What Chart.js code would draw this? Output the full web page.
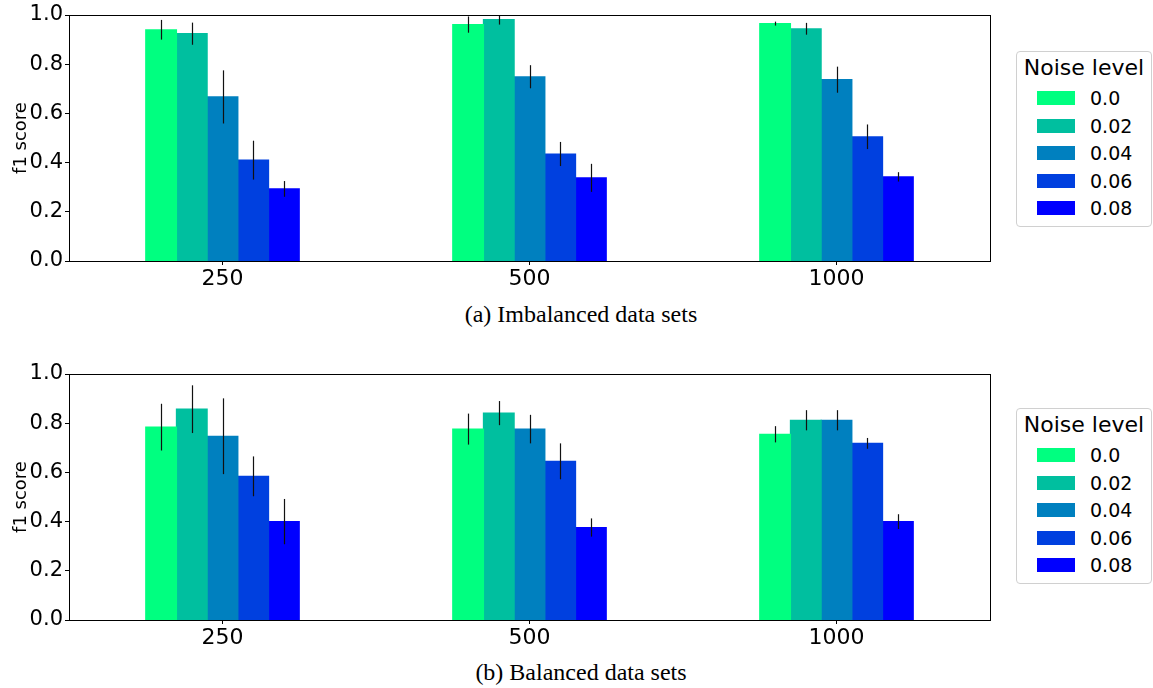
<!DOCTYPE html>
<html>
<head>
<meta charset="utf-8">
<script src="https://cdn.jsdelivr.net/npm/chart.js@4"></script>
<style>
  body { margin: 0; background: #fff; width: 1153px; height: 688px; position: relative; overflow: hidden; }
  .plot { position: absolute; left: 0; width: 1000px; height: 300px; }
  .caption { position: absolute; left: 331px; width: 500px; text-align: center; font-family: "Liberation Serif", serif; font-size: 24px; color: #000; }
  .legend { position: absolute; left: 1016px; width: 134px; height: 174px; border: 1px solid #d0d0d0; border-radius: 4px; font-family: "DejaVu Sans", sans-serif; }
  .legend .title { position: absolute; left: 0; width: 100%; top: 3px; text-align: center; font-size: 22px; line-height: 26px; }
  .legend .row { position: absolute; left: 0; width: 100%; height: 20px; }
  .legend .sw { position: absolute; left: 20px; top: 3px; width: 38px; height: 14px; }
  .legend .lb { position: absolute; left: 73px; top: 0; font-size: 19px; line-height: 20px; }
</style>
</head>
<body>
<div class="plot" style="top:0"><canvas id="imbChart"></canvas></div>
<div class="caption" style="top:301px">(a) Imbalanced data sets</div>
<div class="legend" id="imbLegend" style="top:51px"></div>

<div class="plot" style="top:359px"><canvas id="balChart"></canvas></div>
<div class="caption" style="top:659px">(b) Balanced data sets</div>
<div class="legend" id="balLegend" style="top:408px"></div>

<script>
const categories = ['250', '500', '1000'];
const noiseLevels = ['0.0', '0.02', '0.04', '0.06', '0.08'];
const barColors = ['#00ff80', '#00bf9f', '#0080bf', '#0040df', '#0000ff'];
const yTicks = [0, 0.2, 0.4, 0.6, 0.8, 1.0];

// one row per noise level, one value per data set size
const imbMeans = [
    [0.940, 0.961, 0.965],
    [0.924, 0.981, 0.944],
    [0.667, 0.749, 0.737],
    [0.410, 0.435, 0.505],
    [0.293, 0.338, 0.342]
];
const imbErrors = [
    [0.040, 0.033, 0.008],
    [0.045, 0.020, 0.024],
    [0.108, 0.047, 0.053],
    [0.079, 0.049, 0.050],
    [0.032, 0.057, 0.019]
];
const balMeans = [
    [0.784, 0.776, 0.755],
    [0.857, 0.841, 0.812],
    [0.747, 0.776, 0.812],
    [0.584, 0.645, 0.718],
    [0.400, 0.376, 0.400]
];
const balErrors = [
    [0.095, 0.063, 0.033],
    [0.097, 0.049, 0.041],
    [0.154, 0.058, 0.041],
    [0.081, 0.073, 0.022],
    [0.092, 0.037, 0.030]
];

const errorBars = {
    id: 'errorBars',
    afterDatasetsDraw(chart, args, opts) {
        const c = chart.ctx, y = chart.scales.y, a = chart.chartArea;
        c.save();
        c.beginPath();
        c.rect(a.left, a.top, a.right - a.left, a.bottom - a.top);
        c.clip();
        c.strokeStyle = '#111';
        c.lineWidth = 1.2;
        chart.data.datasets.forEach((ds, i) => {
            const meta = chart.getDatasetMeta(i);
            meta.data.forEach((bar, j) => {
                const v = ds.data[j], e = ds.errors[j];
                c.beginPath();
                c.moveTo(Math.round(bar.x) + 0.5, y.getPixelForValue(v + e));
                c.lineTo(Math.round(bar.x) + 0.5, y.getPixelForValue(v - e));
                c.stroke();
            });
        });
        c.restore();
    }
};

const frame = {
    id: 'frame',
    afterDraw(chart) {
        const c = chart.ctx, a = chart.chartArea;
        c.save();
        c.strokeStyle = '#000';
        c.lineWidth = 1;
        c.strokeRect(Math.round(a.left) + 0.5, Math.round(a.top) + 0.5,
            Math.round(a.right - a.left), Math.round(a.bottom - a.top));
        c.restore();
    }
};

function makeChart(id, means, errors) {
    new Chart(document.getElementById(id), {
        type: 'bar',
        data: {
            labels: categories,
            datasets: noiseLevels.map((lvl, i) => ({
                label: lvl,
                data: means[i],
                errors: errors[i],
                backgroundColor: barColors[i],
                borderWidth: 0,
                inflateAmount: 0.6,
                categoryPercentage: 0.5,
                barPercentage: 1.0
            }))
        },
        options: {
            responsive: false,
            animation: false,
            layout: { padding: { top: 15, right: 10, left: 0, bottom: 0 } },
            plugins: { legend: { display: false }, tooltip: { enabled: false } },
            scales: {
                x: {
                    offset: true,
                    grid: { offset: false, drawOnChartArea: false, color: '#000', tickLength: 4 },
                    border: { display: false },
                    ticks: { color: '#000', padding: 1, font: { family: 'DejaVu Sans', size: 22 } },
                    afterFit(s) { s.height = 39; }
                },
                y: {
                    min: 0,
                    max: 1,
                    afterBuildTicks(s) { s.ticks = yTicks.map(v => ({ value: v })); },
                    grid: { drawOnChartArea: false, color: '#000', tickLength: 4 },
                    border: { display: false },
                    ticks: {
                        color: '#000', padding: 2, font: { family: 'DejaVu Sans', size: 21 },
                        callback: v => v.toFixed(1)
                    },
                    title: {
                        display: true, text: 'f1 score', color: '#000',
                        font: { family: 'DejaVu Sans', size: 18 }, padding: { top: 11, bottom: 0 }
                    },
                    afterFit(s) { s.width = 69; }
                }
            }
        },
        plugins: [errorBars, frame]
    });
}

function makeLegend(id) {
    const box = document.getElementById(id);
    let html = '<div class="title">Noise level</div>';
    noiseLevels.forEach((lvl, i) => {
        const top = 36 + i * 27.6;
        html += '<div class="row" style="top:' + top + 'px"><div class="sw" style="background:' +
            barColors[i] + '"></div><div class="lb">' + lvl + '</div></div>';
    });
    box.innerHTML = html;
}

document.getElementById('imbChart').width = 1000;
document.getElementById('imbChart').height = 300;
document.getElementById('balChart').width = 1000;
document.getElementById('balChart').height = 300;
makeChart('imbChart', imbMeans, imbErrors);
makeChart('balChart', balMeans, balErrors);
makeLegend('imbLegend');
makeLegend('balLegend');
</script>
</body>
</html>
